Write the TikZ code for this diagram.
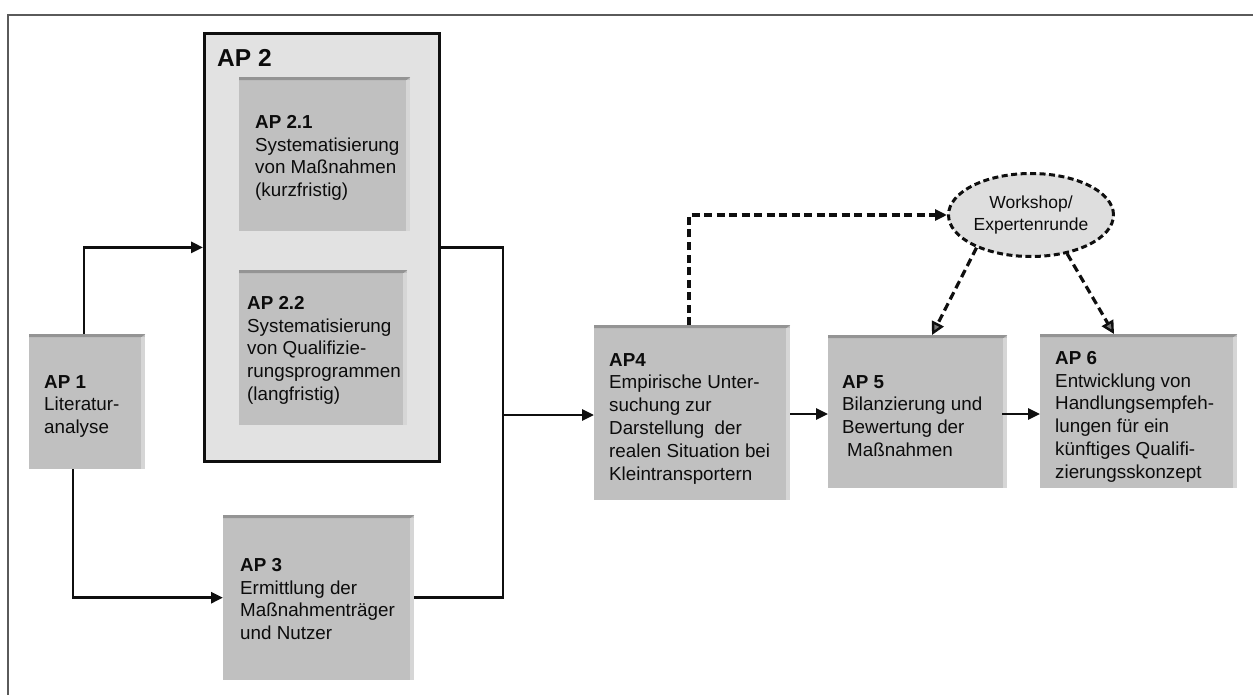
\documentclass[tikz,border=0pt]{standalone}
\usepackage{fontspec}
\setmainfont{Liberation Sans}
\usetikzlibrary{arrows.meta,shapes.geometric}
\definecolor{boxgray}{RGB}{192,192,192}
\definecolor{bevtop}{RGB}{148,148,148}
\definecolor{bevright}{RGB}{214,214,214}
\definecolor{apfill}{RGB}{226,226,226}
\definecolor{wsfill}{RGB}{222,222,222}
\definecolor{framegray}{RGB}{90,90,90}
\definecolor{linecol}{RGB}{15,15,15}
\definecolor{txtcol}{RGB}{12,12,12}
\definecolor{tipfill}{RGB}{120,120,120}
\tikzset{
  apbox/.style={fill=boxgray, inner sep=0pt, anchor=north west, draw=none,
    path picture={
      \fill[bevtop] (path picture bounding box.north west) -- (path picture bounding box.north east)
        -- ([xshift=-4pt,yshift=-3pt]path picture bounding box.north east)
        -- ([yshift=-3pt]path picture bounding box.north west) -- cycle;
      \fill[bevright] ([xshift=-4pt,yshift=-3pt]path picture bounding box.north east)
        -- ([xshift=-4pt]path picture bounding box.south east)
        -- (path picture bounding box.south east)
        -- ([yshift=-3pt]path picture bounding box.north east) -- cycle;
    }},
  aptext/.style={anchor=north west, inner sep=0pt, align=left, text=txtcol,
    font=\fontsize{18.8}{22.8}\selectfont},
  conn/.style={line width=2.8pt, draw=linecol, -{Triangle[length=12pt,width=11pt]}},
  plainconn/.style={line width=2.8pt, draw=linecol},
  dashconn/.style={line width=3.2pt, draw=linecol, dash pattern=on 8pt off 4.5pt},
}
\begin{document}
\begin{tikzpicture}[x=1pt,y=-1pt]
\useasboundingbox (0,0) rectangle (1253,695);
\fill[white] (0,0) rectangle (1253,695);
% outer frame
\draw[line width=1.8pt, framegray] (8,695) -- (8,15) -- (1253,15);

% AP 2 container
\node[draw=linecol, line width=2.8pt, fill=apfill, inner sep=0pt, anchor=north west,
      minimum width=235pt, minimum height=428pt] (AP2) at (203,32) {};
\node[anchor=north west, inner sep=0pt, text=txtcol, font=\fontsize{24.5}{26}\selectfont\bfseries] (AP2t) at (217,49.2) {AP 2};

% boxes
\node[apbox, minimum width=116pt, minimum height=135pt] (AP1) at (29,334) {};
\node[apbox, minimum width=171pt, minimum height=154pt] (AP21) at (239,77) {};
\node[apbox, minimum width=168pt, minimum height=155pt] (AP22) at (239,270) {};
\node[apbox, minimum width=191pt, minimum height=165pt] (AP3) at (223,515) {};
\node[apbox, minimum width=196pt, minimum height=175pt] (AP4) at (594,325) {};
\node[apbox, minimum width=179pt, minimum height=153pt] (AP5) at (828,335) {};
\node[apbox, minimum width=197pt, minimum height=154pt] (AP6) at (1040,334) {};

% texts
\node[aptext] (AP1t) at (44,375) {\textbf{AP 1}\\Literatur-\\analyse};
\node[aptext] (AP21t) at (255,115) {\textbf{AP 2.1}\\Systematisierung\\von Maßnahmen\\(kurzfristig)};
\node[aptext] (AP22t) at (247,296) {\textbf{AP 2.2}\\Systematisierung\\von Qualifizie-\\rungsprogrammen\\(langfristig)};
\node[aptext] (AP3t) at (240,558) {\textbf{AP 3}\\Ermittlung der\\Maßnahmenträger\\und Nutzer};
\node[aptext] (AP4t) at (609,353) {\textbf{AP4}\\Empirische Unter-\\suchung zur\\Darstellung\ \ der\\realen Situation bei\\Kleintransportern};
\node[aptext] (AP5t) at (842,375) {\textbf{AP 5}\\Bilanzierung und\\Bewertung der\\\hspace*{5pt}Maßnahmen};
\node[aptext] (AP6t) at (1055,351) {\textbf{AP 6}\\Entwicklung von\\Handlungsempfeh-\\lungen für ein\\künftiges Qualifi-\\zierungsskonzept};

% workshop ellipse
\node[ellipse, fill=wsfill, draw=linecol, line width=3pt, dash pattern=on 6pt off 3.5pt,
      minimum width=165pt, minimum height=83pt, inner sep=0pt, align=center, text=txtcol,
      font=\fontsize{17.5}{22}\selectfont] (WS) at (1031,215) {Workshop/\\Expertenrunde};

% junction coordinates
\coordinate (J) at (503,415);
\coordinate (R) at (0,414);

% solid connectors
\draw[conn] ([xshift=55pt]AP1.north west) |- (AP2.west);
\draw[conn] ([xshift=44pt]AP1.south west) |- (AP3.west);
\draw[plainconn] (AP2.east) -| (J) |- (AP3.east);
\draw[conn] (J) -- (J -| AP4.west);
\draw[conn] (AP4.east |- R) -- (AP5.west |- R);
\draw[conn] ([xshift=-5pt]AP5.east |- R) -- (AP6.west |- R);

% dashed connectors
\draw[dashconn, -{Triangle[length=12pt,width=11pt]}] ([xshift=95pt]AP4.north west) |- (WS.west);
\draw[dashconn, -{Triangle[length=13pt,width=13pt,line width=2.4pt,fill=tipfill]}] (WS.211) -- ([xshift=104pt]AP5.north west);
\draw[dashconn, -{Triangle[length=13pt,width=13pt,line width=2.4pt,fill=tipfill]}] (WS.313) -- ([xshift=74pt]AP6.north west);
\end{tikzpicture}
\end{document}
